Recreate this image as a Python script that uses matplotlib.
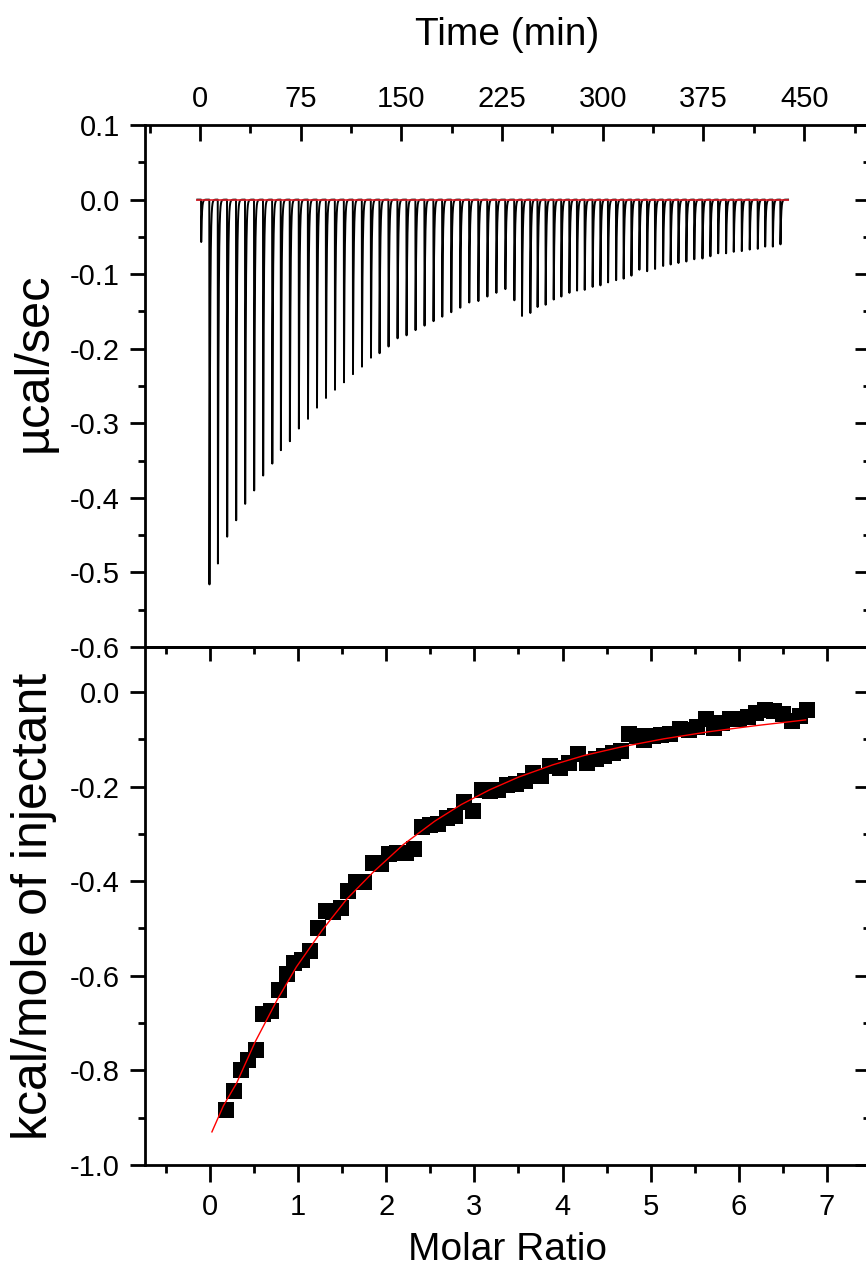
import numpy as np
import matplotlib.pyplot as plt
from matplotlib.ticker import MultipleLocator, FuncFormatter

plt.rcParams['font.family'] = ['Liberation Sans', 'DejaVu Sans']
plt.rcParams['axes.unicode_minus'] = False

# raw ITC thermogram: injection times (min) and peak depths (µcal/sec)
inj_time = [0.75, 6.9, 13.2, 20.1, 26.8, 33.5, 40.2, 46.9, 53.7, 60.1, 66.8, 73.5,
            80.3, 87.0, 93.7, 100.4, 107.1, 113.8, 120.5, 127.2, 133.6, 140.3, 147.0,
            153.7, 160.4, 167.1, 173.8, 180.3, 187.0, 193.7, 200.4, 207.2, 213.9,
            220.6, 227.3, 234.0, 239.7, 245.9, 251.3, 257.3, 263.3, 269.0, 275.0,
            280.7, 286.4, 292.3, 298.1, 303.8, 309.8, 315.4, 321.2, 327.1, 332.9,
            338.8, 344.8, 350.4, 356.2, 362.1, 368.0, 374.1, 380.0, 385.8, 391.7,
            397.4, 403.4, 409.3, 415.3, 420.8, 426.5, 432.2]
inj_depth = [-0.058, -0.516, -0.488, -0.452, -0.430, -0.408, -0.390, -0.370, -0.354,
             -0.336, -0.324, -0.307, -0.294, -0.279, -0.266, -0.255, -0.245, -0.234,
             -0.224, -0.212, -0.206, -0.197, -0.186, -0.182, -0.175, -0.169, -0.163,
             -0.157, -0.151, -0.145, -0.138, -0.136, -0.130, -0.125, -0.120, -0.135,
             -0.156, -0.152, -0.144, -0.141, -0.134, -0.130, -0.125, -0.122, -0.121,
             -0.117, -0.115, -0.111, -0.108, -0.106, -0.102, -0.094, -0.096, -0.093,
             -0.089, -0.087, -0.085, -0.083, -0.080, -0.079, -0.076, -0.072, -0.072,
             -0.070, -0.069, -0.067, -0.066, -0.063, -0.063, -0.060]
baseline_start, baseline_end = -2.0, 438.0

# integrated heats (kcal/mole of injectant) vs molar ratio
ratio = [0.18, 0.27, 0.35, 0.43, 0.52, 0.60, 0.69, 0.78, 0.87, 0.95, 1.04, 1.13, 1.22,
         1.31, 1.39, 1.48, 1.57, 1.66, 1.75, 1.85, 1.94, 2.03, 2.12, 2.22, 2.31, 2.41,
         2.50, 2.59, 2.69, 2.78, 2.88, 2.98, 3.09, 3.18, 3.27, 3.37, 3.47, 3.57, 3.66,
         3.76, 3.86, 3.97, 4.07, 4.18, 4.28, 4.38, 4.47, 4.57, 4.66, 4.75, 4.84, 4.93,
         5.03, 5.12, 5.22, 5.33, 5.43, 5.53, 5.63, 5.72, 5.81, 5.90, 6.00, 6.10, 6.20,
         6.30, 6.40, 6.50, 6.60, 6.70, 6.78]
heat = [-0.884, -0.844, -0.800, -0.778, -0.757, -0.680, -0.675, -0.631, -0.596, -0.573,
        -0.567, -0.548, -0.500, -0.463, -0.465, -0.456, -0.420, -0.402, -0.402, -0.361,
        -0.364, -0.343, -0.340, -0.340, -0.331, -0.285, -0.282, -0.280, -0.266, -0.262,
        -0.233, -0.252, -0.208, -0.210, -0.208, -0.196, -0.195, -0.189, -0.172, -0.178,
        -0.156, -0.161, -0.150, -0.132, -0.150, -0.141, -0.135, -0.129, -0.124, -0.088,
        -0.094, -0.101, -0.092, -0.090, -0.088, -0.078, -0.080, -0.074, -0.058, -0.076,
        -0.066, -0.057, -0.057, -0.052, -0.045, -0.039, -0.040, -0.046, -0.062, -0.050,
        -0.039]

# fitted curve
fit_ratio = [0.02, 0.15, 0.30, 0.51, 0.76, 0.98, 1.27, 1.55, 1.85, 2.19, 2.55, 2.85,
             3.17, 3.50, 3.89, 4.25, 4.67, 5.15, 5.66, 6.20, 6.76]
fit_heat = [-0.930, -0.875, -0.827, -0.740, -0.651, -0.581, -0.504, -0.438, -0.381,
            -0.323, -0.273, -0.238, -0.207, -0.180, -0.154, -0.134, -0.116, -0.099,
            -0.084, -0.071, -0.059]

# build the thermogram trace from the injection list
t = np.arange(baseline_start, baseline_end, 0.02)
trace = np.zeros_like(t)
for t0, d in zip(inj_time, inj_depth):
    rise = (t >= t0) & (t < t0 + 0.14)
    trace[rise] += d * (t[rise] - t0) / 0.14
    decay = t >= t0 + 0.14
    trace[decay] += d * np.exp(-(t[decay] - t0 - 0.14) / 0.5)

fig = plt.figure(figsize=(8.66, 12.76), dpi=100)
ax1 = fig.add_axes([0.1674, 0.4929, 0.8372, 0.4091])
ax2 = fig.add_axes([0.1674, 0.0870, 0.8372, 0.4059])

fmt1 = FuncFormatter(lambda v, p: f"{round(v, 1) + 0:.1f}")
lw = 2.0
tick_fs = 21

# ---- top panel: raw power
ax1.plot(t, trace, color="black", lw=1.4)
ax1.plot([baseline_start, baseline_end], [0, 0], color="#e0202a", lw=1.4, alpha=0.85)
ax1.set_xlim(-41, 499)
ax1.set_ylim(-0.6, 0.1)
ax1.xaxis.set_major_locator(MultipleLocator(75))
ax1.xaxis.set_minor_locator(MultipleLocator(37.5))
ax1.yaxis.set_major_locator(MultipleLocator(0.1))
ax1.yaxis.set_minor_locator(MultipleLocator(0.05))
ax1.yaxis.set_major_formatter(fmt1)
ax1.tick_params(axis="x", which="both", direction="in", top=True, bottom=False,
                labeltop=True, labelbottom=False, width=lw, pad=9)
ax1.tick_params(axis="x", which="major", length=11.5)
ax1.tick_params(axis="x", which="minor", length=6)
ax1.tick_params(axis="y", which="both", direction="out", left=True, right=False,
                width=lw, pad=7)
ax1.tick_params(axis="y", which="major", length=11)
ax1.tick_params(axis="y", which="minor", length=5)
r1 = ax1.secondary_yaxis("right")
r1.yaxis.set_major_locator(MultipleLocator(0.1))
r1.yaxis.set_minor_locator(MultipleLocator(0.05))
r1.tick_params(which="both", direction="in", width=lw, labelright=False)
r1.tick_params(which="major", length=11)
r1.tick_params(which="minor", length=5)
r1.spines["right"].set_linewidth(lw)
ax1.set_xlabel("Time (min)", fontsize=28)
ax1.xaxis.set_label_position("top")
ax1.xaxis.label.set_va("center")
ax1.xaxis.set_label_coords(0.5, 1.172)
ax1.set_ylabel("µcal/sec", fontsize=35)
ax1.yaxis.label.set_va("center")
ax1.yaxis.set_label_coords(-0.153, 0.546)

# ---- bottom panel: integrated heats
ax2.plot(ratio, heat, "s", color="black", ms=11.5, mew=0)
ax2.plot(fit_ratio, fit_heat, color="red", lw=1.0)
ax2.set_xlim(-0.74, 7.49)
ax2.set_ylim(-1.0, 0.095)
ax2.xaxis.set_major_locator(MultipleLocator(1))
ax2.xaxis.set_minor_locator(MultipleLocator(0.5))
ax2.yaxis.set_major_locator(MultipleLocator(0.2))
ax2.yaxis.set_minor_locator(MultipleLocator(0.1))
ax2.yaxis.set_major_formatter(fmt1)
ax2.tick_params(axis="x", which="both", direction="out", top=False, width=lw, pad=8)
ax2.tick_params(axis="x", which="major", length=12)
ax2.tick_params(axis="x", which="minor", length=6)
ax2.tick_params(axis="y", which="both", direction="out", right=False, width=lw, pad=7)
ax2.tick_params(axis="y", which="major", length=11)
ax2.tick_params(axis="y", which="minor", length=5)
t2 = ax2.secondary_xaxis("top")
t2.xaxis.set_major_locator(MultipleLocator(1))
t2.xaxis.set_minor_locator(MultipleLocator(0.5))
t2.tick_params(which="both", direction="in", width=lw, labeltop=False)
t2.tick_params(which="major", length=10)
t2.tick_params(which="minor", length=5)
t2.spines["top"].set_linewidth(lw)
r2 = ax2.secondary_yaxis("right")
r2.yaxis.set_major_locator(MultipleLocator(0.2))
r2.yaxis.set_minor_locator(MultipleLocator(0.1))
r2.tick_params(which="both", direction="in", width=lw, labelright=False)
r2.tick_params(which="major", length=11)
r2.tick_params(which="minor", length=5)
r2.spines["right"].set_linewidth(lw)
ax2.set_xlabel("Molar Ratio", fontsize=28)
ax2.xaxis.label.set_va("center")
ax2.xaxis.set_label_coords(0.5, -0.164)
ax2.set_ylabel("kcal/mole of injectant", fontsize=36)
ax2.yaxis.label.set_va("center")
ax2.yaxis.set_label_coords(-0.153, 0.5)

for ax in (ax1, ax2):
    for s in ax.spines.values():
        s.set_linewidth(lw)
    for lab in ax.get_xticklabels() + ax.get_yticklabels():
        lab.set_fontsize(tick_fs)

fig.savefig("out.png", dpi=100)
